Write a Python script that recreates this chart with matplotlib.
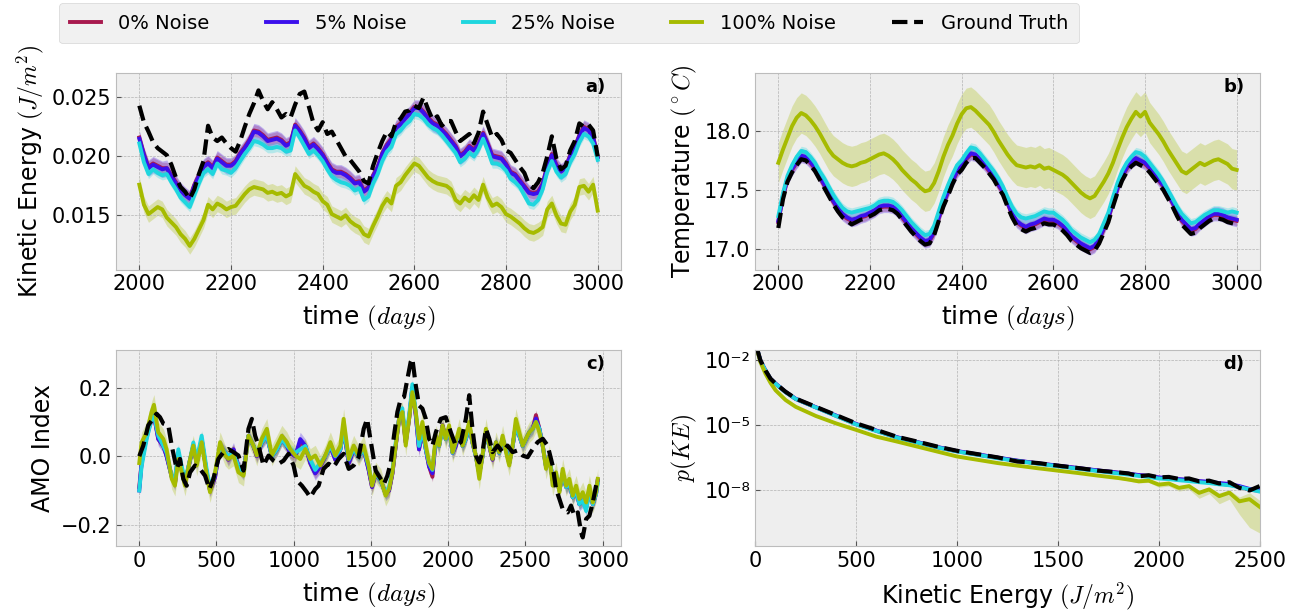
import numpy as np
import matplotlib
matplotlib.use("Agg")
import matplotlib.pyplot as plt
from matplotlib.ticker import NullLocator
from matplotlib.lines import Line2D

plt.style.use('bmh')
plt.rcParams['font.family'] = ['DejaVu Sans']

# ---------------- data ----------------
series_names = ['0% Noise', '5% Noise', '25% Noise', '100% Noise']
series_colors = ['#a81a4e', '#3c10ec', '#1fd6de', '#a6bb00']

# panel a: kinetic energy, days 2000..3000 every 10 days
ke_days = np.arange(2000, 3001, 10)
ke_truth = [
    0.0243, 0.0229, 0.0221, 0.0212, 0.0207, 0.0204, 0.0201, 0.0193, 0.0182, 0.0174,
    0.0170, 0.0164, 0.0172, 0.0185, 0.0196, 0.0226, 0.0216, 0.0213, 0.0216, 0.0211,
    0.0207, 0.0204, 0.0213, 0.0225, 0.0236, 0.0245, 0.0256, 0.0247, 0.0240, 0.0246,
    0.0240, 0.0233, 0.0236, 0.0233, 0.0244, 0.0253, 0.0255, 0.0242, 0.0228, 0.0222,
    0.0229, 0.0219, 0.0221, 0.0214, 0.0207, 0.0200, 0.0197, 0.0192, 0.0187, 0.0179,
    0.0177, 0.0192, 0.0203, 0.0213, 0.0221, 0.0217, 0.0229, 0.0232, 0.0238, 0.0239,
    0.0243, 0.0241, 0.0250, 0.0240, 0.0231, 0.0234, 0.0226, 0.0230, 0.0230, 0.0221,
    0.0213, 0.0216, 0.0219, 0.0211, 0.0220, 0.0238, 0.0227, 0.0216, 0.0219, 0.0214,
    0.0205, 0.0203, 0.0197, 0.0191, 0.0186, 0.0176, 0.0173, 0.0178, 0.0186, 0.0200,
    0.0217, 0.0198, 0.0189, 0.0192, 0.0205, 0.0213, 0.0228, 0.0225, 0.0227, 0.0222,
    0.0200]
ke_noise0 = [
    0.0216, 0.0202, 0.0191, 0.0194, 0.0192, 0.0190, 0.0190, 0.0184, 0.0178, 0.0172,
    0.0168, 0.0165, 0.0176, 0.0184, 0.0192, 0.0195, 0.0191, 0.0199, 0.0196, 0.0193,
    0.0193, 0.0196, 0.0203, 0.0208, 0.0214, 0.0222, 0.0221, 0.0218, 0.0214, 0.0215,
    0.0216, 0.0214, 0.0210, 0.0212, 0.0227, 0.0222, 0.0216, 0.0208, 0.0211, 0.0207,
    0.0202, 0.0195, 0.0189, 0.0187, 0.0187, 0.0185, 0.0182, 0.0178, 0.0179, 0.0171,
    0.0174, 0.0184, 0.0191, 0.0203, 0.0210, 0.0215, 0.0225, 0.0228, 0.0233, 0.0237,
    0.0242, 0.0242, 0.0238, 0.0233, 0.0229, 0.0227, 0.0223, 0.0219, 0.0214, 0.0209,
    0.0201, 0.0204, 0.0209, 0.0206, 0.0211, 0.0220, 0.0211, 0.0201, 0.0200, 0.0199,
    0.0194, 0.0187, 0.0185, 0.0180, 0.0175, 0.0170, 0.0169, 0.0170, 0.0177, 0.0192,
    0.0202, 0.0193, 0.0188, 0.0191, 0.0201, 0.0208, 0.0218, 0.0225, 0.0223, 0.0217,
    0.0200]
ke_noise5 = [
    0.0215, 0.0201, 0.0190, 0.0193, 0.0191, 0.0189, 0.0190, 0.0183, 0.0177, 0.0171,
    0.0167, 0.0164, 0.0175, 0.0183, 0.0191, 0.0194, 0.0190, 0.0198, 0.0195, 0.0192,
    0.0192, 0.0195, 0.0202, 0.0207, 0.0213, 0.0221, 0.0220, 0.0217, 0.0213, 0.0214,
    0.0215, 0.0213, 0.0209, 0.0211, 0.0226, 0.0221, 0.0215, 0.0207, 0.0210, 0.0206,
    0.0201, 0.0194, 0.0188, 0.0186, 0.0186, 0.0184, 0.0181, 0.0177, 0.0178, 0.0170,
    0.0173, 0.0183, 0.0190, 0.0202, 0.0209, 0.0214, 0.0224, 0.0227, 0.0232, 0.0236,
    0.0241, 0.0241, 0.0237, 0.0232, 0.0228, 0.0226, 0.0222, 0.0218, 0.0213, 0.0208,
    0.0200, 0.0203, 0.0208, 0.0205, 0.0210, 0.0219, 0.0210, 0.0200, 0.0199, 0.0198,
    0.0193, 0.0186, 0.0184, 0.0179, 0.0174, 0.0169, 0.0168, 0.0169, 0.0176, 0.0191,
    0.0201, 0.0192, 0.0187, 0.0190, 0.0200, 0.0207, 0.0217, 0.0224, 0.0222, 0.0216,
    0.0199]
ke_noise25 = [
    0.0211, 0.0195, 0.0185, 0.0189, 0.0186, 0.0184, 0.0185, 0.0178, 0.0172, 0.0165,
    0.0161, 0.0157, 0.0167, 0.0177, 0.0186, 0.0189, 0.0185, 0.0194, 0.0189, 0.0188,
    0.0186, 0.0190, 0.0196, 0.0202, 0.0207, 0.0213, 0.0212, 0.0210, 0.0207, 0.0207,
    0.0208, 0.0207, 0.0204, 0.0205, 0.0222, 0.0216, 0.0209, 0.0202, 0.0205, 0.0201,
    0.0196, 0.0189, 0.0183, 0.0180, 0.0178, 0.0177, 0.0175, 0.0171, 0.0173, 0.0163,
    0.0166, 0.0177, 0.0185, 0.0196, 0.0204, 0.0208, 0.0219, 0.0222, 0.0227, 0.0230,
    0.0236, 0.0235, 0.0232, 0.0227, 0.0224, 0.0222, 0.0218, 0.0213, 0.0208, 0.0203,
    0.0195, 0.0198, 0.0203, 0.0200, 0.0206, 0.0215, 0.0205, 0.0194, 0.0194, 0.0192,
    0.0188, 0.0181, 0.0178, 0.0174, 0.0167, 0.0160, 0.0159, 0.0163, 0.0172, 0.0187,
    0.0196, 0.0187, 0.0182, 0.0185, 0.0195, 0.0202, 0.0212, 0.0219, 0.0217, 0.0211,
    0.0197]
ke_noise100 = [
    0.0176, 0.0159, 0.0151, 0.0154, 0.0157, 0.0155, 0.0148, 0.0144, 0.0140, 0.0134,
    0.0130, 0.0124, 0.0130, 0.0138, 0.0146, 0.0159, 0.0155, 0.0160, 0.0158, 0.0155,
    0.0157, 0.0158, 0.0163, 0.0168, 0.0172, 0.0174, 0.0173, 0.0172, 0.0169, 0.0170,
    0.0168, 0.0169, 0.0166, 0.0168, 0.0185, 0.0180, 0.0175, 0.0173, 0.0170, 0.0168,
    0.0162, 0.0159, 0.0151, 0.0149, 0.0147, 0.0150, 0.0145, 0.0142, 0.0140, 0.0134,
    0.0132, 0.0141, 0.0149, 0.0158, 0.0164, 0.0160, 0.0175, 0.0178, 0.0184, 0.0189,
    0.0194, 0.0192, 0.0187, 0.0182, 0.0179, 0.0177, 0.0176, 0.0175, 0.0172, 0.0163,
    0.0160, 0.0165, 0.0162, 0.0167, 0.0163, 0.0176, 0.0165, 0.0158, 0.0160, 0.0157,
    0.0151, 0.0149, 0.0146, 0.0143, 0.0139, 0.0136, 0.0135, 0.0137, 0.0140, 0.0155,
    0.0160, 0.0150, 0.0143, 0.0142, 0.0153, 0.0159, 0.0174, 0.0175, 0.0170, 0.0176,
    0.0154]
ke_spread = [0.0005, 0.0007, 0.0004, 0.0007]

# panel b: temperature, days 2000..3000 every 10 days
temp_days = np.arange(2000, 3001, 10)
temp_truth = [
    17.18, 17.42, 17.57, 17.65, 17.71, 17.76, 17.75, 17.71, 17.66, 17.59,
    17.52, 17.45, 17.38, 17.32, 17.27, 17.24, 17.21, 17.23, 17.25, 17.26,
    17.28, 17.30, 17.33, 17.34, 17.34, 17.33, 17.30, 17.25, 17.20, 17.15,
    17.11, 17.07, 17.04, 17.05, 17.12, 17.24, 17.36, 17.45, 17.55, 17.63,
    17.67, 17.73, 17.77, 17.77, 17.73, 17.69, 17.64, 17.59, 17.52, 17.46,
    17.36, 17.27, 17.20, 17.17, 17.15, 17.17, 17.18, 17.20, 17.22, 17.21,
    17.21, 17.19, 17.16, 17.12, 17.07, 17.04, 17.01, 16.99, 16.97, 16.99,
    17.05, 17.14, 17.23, 17.36, 17.48, 17.58, 17.65, 17.70, 17.73, 17.71,
    17.69, 17.65, 17.60, 17.55, 17.50, 17.43, 17.36, 17.28, 17.21, 17.17,
    17.13, 17.14, 17.18, 17.21, 17.24, 17.26, 17.26, 17.25, 17.23, 17.22,
    17.21]
temp_noise0 = [
    17.23, 17.44, 17.59, 17.67, 17.73, 17.78, 17.77, 17.73, 17.68, 17.61,
    17.54, 17.47, 17.40, 17.34, 17.29, 17.26, 17.24, 17.25, 17.27, 17.28,
    17.30, 17.32, 17.35, 17.36, 17.36, 17.35, 17.32, 17.27, 17.22, 17.17,
    17.13, 17.09, 17.06, 17.07, 17.14, 17.26, 17.38, 17.48, 17.57, 17.65,
    17.70, 17.76, 17.80, 17.79, 17.75, 17.71, 17.66, 17.61, 17.54, 17.48,
    17.39, 17.29, 17.23, 17.20, 17.18, 17.20, 17.21, 17.23, 17.25, 17.24,
    17.24, 17.22, 17.19, 17.15, 17.10, 17.07, 17.04, 17.02, 17.00, 17.02,
    17.08, 17.17, 17.26, 17.39, 17.51, 17.61, 17.68, 17.73, 17.76, 17.74,
    17.72, 17.68, 17.63, 17.58, 17.53, 17.46, 17.39, 17.31, 17.24, 17.20,
    17.16, 17.17, 17.21, 17.24, 17.27, 17.29, 17.29, 17.28, 17.26, 17.25,
    17.24]
temp_noise5 = [
    17.24, 17.45, 17.60, 17.68, 17.74, 17.79, 17.78, 17.74, 17.69, 17.62,
    17.55, 17.48, 17.41, 17.35, 17.30, 17.27, 17.25, 17.26, 17.28, 17.29,
    17.31, 17.33, 17.36, 17.37, 17.37, 17.36, 17.33, 17.28, 17.23, 17.18,
    17.14, 17.10, 17.07, 17.08, 17.15, 17.27, 17.39, 17.49, 17.58, 17.66,
    17.71, 17.77, 17.81, 17.80, 17.76, 17.72, 17.67, 17.62, 17.55, 17.49,
    17.40, 17.30, 17.24, 17.21, 17.19, 17.21, 17.22, 17.24, 17.26, 17.25,
    17.25, 17.23, 17.20, 17.16, 17.11, 17.08, 17.05, 17.03, 17.01, 17.03,
    17.09, 17.18, 17.27, 17.40, 17.52, 17.62, 17.69, 17.74, 17.77, 17.75,
    17.73, 17.69, 17.64, 17.59, 17.54, 17.47, 17.40, 17.32, 17.25, 17.21,
    17.17, 17.18, 17.22, 17.25, 17.28, 17.30, 17.30, 17.29, 17.27, 17.26,
    17.25]
temp_noise25 = [
    17.28, 17.47, 17.62, 17.71, 17.78, 17.83, 17.82, 17.78, 17.73, 17.66,
    17.60, 17.53, 17.46, 17.40, 17.35, 17.32, 17.31, 17.32, 17.33, 17.34,
    17.35, 17.37, 17.40, 17.41, 17.41, 17.40, 17.37, 17.33, 17.28, 17.23,
    17.19, 17.15, 17.12, 17.13, 17.20, 17.32, 17.44, 17.54, 17.63, 17.71,
    17.75, 17.81, 17.86, 17.85, 17.81, 17.76, 17.71, 17.66, 17.60, 17.53,
    17.44, 17.36, 17.30, 17.27, 17.26, 17.27, 17.28, 17.30, 17.32, 17.31,
    17.31, 17.28, 17.25, 17.21, 17.16, 17.13, 17.10, 17.08, 17.06, 17.08,
    17.13, 17.22, 17.31, 17.44, 17.56, 17.66, 17.73, 17.78, 17.82, 17.81,
    17.78, 17.73, 17.68, 17.63, 17.57, 17.50, 17.43, 17.36, 17.30, 17.26,
    17.22, 17.23, 17.26, 17.29, 17.31, 17.33, 17.33, 17.32, 17.31, 17.32,
    17.31]
temp_noise100 = [
    17.73, 17.84, 17.94, 18.04, 18.11, 18.15, 18.13, 18.09, 18.04, 17.98,
    17.91, 17.84, 17.79, 17.76, 17.73, 17.71, 17.70, 17.71, 17.73, 17.74,
    17.76, 17.78, 17.80, 17.81, 17.79, 17.76, 17.72, 17.67, 17.63, 17.59,
    17.56, 17.52, 17.49, 17.50, 17.56, 17.66, 17.78, 17.88, 17.96, 18.06,
    18.14, 18.19, 18.20, 18.17, 18.13, 18.09, 18.05, 17.99, 17.92, 17.86,
    17.80, 17.75, 17.71, 17.70, 17.69, 17.70, 17.69, 17.71, 17.68, 17.69,
    17.67, 17.65, 17.63, 17.60, 17.56, 17.52, 17.48, 17.45, 17.43, 17.45,
    17.51, 17.57, 17.64, 17.73, 17.84, 17.94, 18.03, 18.10, 18.16, 18.12,
    18.16, 18.07, 18.02, 17.97, 17.91, 17.84, 17.78, 17.72, 17.66, 17.64,
    17.67, 17.70, 17.73, 17.71, 17.73, 17.75, 17.76, 17.74, 17.72, 17.68,
    17.67]
temp_spread = [0.04, 0.06, 0.04, 0.17]

# panel c: AMO index
amo_days = [
    0, 15, 48, 80, 95, 123, 156, 177, 210, 231,
    253, 275, 296, 329, 350, 372, 404, 437, 458, 491,
    523, 556, 577, 610, 642, 675, 707, 739, 761, 793,
    826, 858, 891, 923, 956, 977, 1010, 1042, 1075, 1107,
    1139, 1172, 1204, 1237, 1269, 1302, 1323, 1356, 1388, 1420,
    1453, 1485, 1507, 1530, 1563, 1595, 1617, 1639, 1660, 1682,
    1703, 1725, 1747, 1768, 1790, 1811, 1833, 1855, 1876, 1898,
    1920, 1941, 1963, 1984, 2006, 2028, 2049, 2071, 2093, 2114,
    2136, 2157, 2179, 2201, 2222, 2244, 2266, 2287, 2309, 2330,
    2352, 2374, 2395, 2417, 2438, 2460, 2482, 2503, 2525, 2547,
    2568, 2590, 2612, 2633, 2655, 2676, 2698, 2720, 2741, 2763,
    2784, 2806, 2828, 2849, 2871, 2893, 2914, 2936, 2957, 2968]
amo_noise0 = [
    -0.09, -0.02, 0.06, 0.11, 0.12, 0.05, 0.03, 0.00, -0.06, -0.08,
    0.01, -0.04, -0.08, -0.01, 0.03, -0.02, 0.05, -0.05, -0.10, -0.06,
    0.03, 0.01, -0.01, 0.02, -0.03, -0.05, 0.06, 0.03, 0.00, 0.04,
    0.06, 0.00, 0.02, 0.05, 0.03, 0.01, 0.00, 0.04, 0.03, -0.02,
    -0.05, -0.03, 0.00, 0.03, -0.01, 0.02, 0.08, -0.02, 0.02, 0.00,
    0.02, -0.04, -0.09, -0.05, -0.07, -0.11, -0.10, -0.05, 0.03, 0.11,
    0.13, 0.04, 0.11, 0.20, 0.12, 0.02, 0.07, 0.02, -0.03, -0.06,
    0.05, 0.03, 0.09, 0.05, 0.08, 0.01, 0.03, 0.07, 0.03, 0.05,
    0.09, 0.04, 0.00, -0.05, 0.00, 0.07, 0.03, -0.01, 0.04, 0.01,
    0.05, 0.02, -0.02, 0.03, 0.09, 0.06, 0.03, 0.05, 0.07, 0.08,
    0.12, 0.08, 0.03, -0.03, 0.00, -0.07, -0.06, -0.10, -0.05, -0.09,
    -0.08, -0.12, -0.10, -0.14, -0.13, -0.15, -0.10, -0.14, -0.11, -0.07]
amo_noise5 = [
    -0.10, -0.02, 0.06, 0.11, 0.12, 0.05, 0.03, 0.00, -0.06, -0.08,
    0.01, -0.04, -0.08, -0.01, 0.03, -0.02, 0.05, -0.05, -0.10, -0.06,
    0.03, 0.01, -0.01, 0.02, -0.03, -0.05, 0.06, 0.03, 0.00, 0.04,
    0.06, 0.00, 0.02, 0.05, 0.03, 0.01, 0.00, 0.05, 0.03, -0.02,
    -0.05, -0.03, 0.00, 0.03, -0.01, 0.02, 0.08, -0.02, 0.02, 0.00,
    0.02, -0.04, -0.09, -0.05, -0.07, -0.11, -0.10, -0.05, 0.03, 0.11,
    0.13, 0.04, 0.11, 0.20, 0.12, 0.02, 0.08, 0.02, -0.03, -0.05,
    0.05, 0.03, 0.09, 0.05, 0.08, 0.01, 0.03, 0.07, 0.03, 0.05,
    0.09, 0.04, 0.00, -0.05, 0.00, 0.07, 0.03, -0.01, 0.04, 0.01,
    0.05, 0.02, -0.02, 0.03, 0.09, 0.06, 0.03, 0.05, 0.07, 0.08,
    0.11, 0.08, 0.03, -0.03, 0.00, -0.07, -0.06, -0.10, -0.05, -0.09,
    -0.08, -0.12, -0.10, -0.14, -0.13, -0.15, -0.10, -0.14, -0.11, -0.07]
amo_noise25 = [
    -0.10, -0.03, 0.05, 0.11, 0.12, 0.06, 0.03, 0.01, -0.06, -0.07,
    0.02, -0.03, -0.07, -0.01, 0.04, -0.01, 0.06, -0.04, -0.09, -0.05,
    0.03, 0.01, 0.00, 0.01, -0.03, -0.05, 0.06, 0.03, 0.01, 0.04,
    0.06, 0.00, 0.02, 0.05, 0.03, 0.02, 0.01, 0.02, 0.03, -0.01,
    -0.04, -0.02, 0.00, 0.03, 0.00, 0.02, 0.08, -0.01, 0.02, 0.00,
    0.02, -0.03, -0.08, -0.05, -0.07, -0.11, -0.09, -0.04, 0.04, 0.11,
    0.14, 0.05, 0.12, 0.21, 0.13, 0.03, 0.08, 0.02, -0.02, -0.04,
    0.05, 0.03, 0.08, 0.05, 0.08, 0.01, 0.04, 0.07, 0.03, 0.05,
    0.09, 0.04, 0.00, -0.05, 0.00, 0.07, 0.03, 0.00, 0.04, 0.01,
    0.05, 0.02, -0.02, 0.03, 0.09, 0.06, 0.03, 0.05, 0.07, 0.08,
    0.10, 0.08, 0.03, -0.03, 0.00, -0.07, -0.05, -0.10, -0.05, -0.09,
    -0.08, -0.12, -0.10, -0.14, -0.13, -0.16, -0.10, -0.14, -0.11, -0.08]
amo_noise100 = [
    -0.02, 0.04, 0.07, 0.13, 0.15, 0.07, 0.05, 0.02, -0.066, -0.086,
    -0.008, -0.047, -0.086, -0.008, 0.031, -0.027, 0.041, -0.057, -0.105, -0.047,
    0.041, 0.002, -0.008, 0.002, -0.047, -0.057, 0.06, 0.031, 0.002, 0.051,
    0.08, 0.002, 0.031, 0.06, 0.041, 0.021, 0.002, -0.008, 0.021, -0.008,
    0.002, -0.027, 0.002, 0.041, 0.002, 0.031, 0.109, -0.008, 0.031, 0.002,
    0.031, -0.027, -0.086, -0.047, -0.066, -0.115, -0.096, -0.047, 0.031, 0.109,
    0.129, 0.031, 0.109, 0.187, 0.129, 0.051, 0.10, 0.031, -0.018, -0.037,
    0.06, 0.031, 0.09, 0.051, 0.09, 0.012, 0.041, 0.08, 0.031, 0.06,
    0.10, 0.041, 0.002, -0.066, 0.002, 0.08, 0.031, -0.008, 0.041, 0.012,
    0.06, 0.012, -0.027, 0.031, 0.109, 0.07, 0.031, 0.051, 0.07, 0.08,
    0.10, 0.07, 0.031, -0.037, 0.002, -0.086, -0.047, -0.105, -0.037, -0.086,
    -0.066, -0.115, -0.086, -0.125, -0.105, -0.135, -0.086, -0.135, -0.105, -0.066]
amo_spread = [0.015, 0.02, 0.015, 0.03]
amo_truth_days = [
    0, 26, 58, 80, 112, 134, 156, 188, 210, 242,
    264, 285, 307, 329, 361, 393, 426, 454, 480, 512,
    545, 577, 610, 642, 675, 707, 729, 750, 772, 804,
    837, 869, 902, 934, 966, 999, 1020, 1053, 1085, 1107,
    1139, 1161, 1193, 1226, 1258, 1291, 1323, 1356, 1388, 1420,
    1453, 1475, 1496, 1530, 1563, 1584, 1606, 1628, 1649, 1671,
    1693, 1714, 1736, 1757, 1768, 1790, 1811, 1833, 1855, 1876,
    1898, 1920, 1952, 1984, 2017, 2049, 2082, 2114, 2136, 2157,
    2179, 2201, 2222, 2244, 2266, 2287, 2320, 2352, 2384, 2417,
    2449, 2482, 2514, 2547, 2579, 2612, 2644, 2676, 2698, 2720,
    2741, 2774, 2795, 2817, 2839, 2860, 2871, 2893, 2914, 2936,
    2957, 2968]
amo_truth = [
    0.0, 0.031, 0.09, 0.104, 0.124, 0.114, 0.095, 0.09, 0.031, -0.037,
    -0.008, -0.066, -0.086, -0.047, -0.027, -0.037, -0.057, -0.096, -0.066, -0.008,
    0.012, 0.021, 0.012, 0.002, -0.042, 0.08, 0.109, 0.06, 0.031, -0.027,
    0.002, -0.013, -0.022, -0.013, 0.007, -0.027, -0.071, -0.086, -0.105, -0.12,
    -0.096, -0.086, -0.037, -0.022, -0.032, -0.008, 0.007, -0.037, -0.027, -0.003,
    0.08, 0.109, 0.051, -0.042, -0.066, -0.081, -0.057, -0.018, 0.06, 0.129,
    0.168, 0.173, 0.226, 0.275, 0.285, 0.207, 0.148, 0.139, 0.109, 0.051,
    0.031, 0.07, 0.109, 0.114, 0.07, 0.031, 0.041, 0.109, 0.178, 0.08,
    0.002, -0.018, 0.012, 0.08, 0.051, 0.012, 0.031, 0.012, 0.031, 0.012,
    0.017, 0.002, -0.003, 0.021, 0.041, 0.051, 0.031, -0.027, -0.096, -0.125,
    -0.154, -0.164, -0.144, -0.174, -0.164, -0.222, -0.237, -0.183, -0.174, -0.135,
    -0.086, -0.066]

# panel d: PDF of kinetic energy (log10 values)
pdf_ke = [10, 25, 50, 75, 100, 150, 200, 300, 400, 500, 600, 700, 800, 900, 1000,
          1100, 1200, 1300, 1400, 1500, 1600, 1700, 1800, 1850, 1900, 1950, 2000,
          2050, 2100, 2150, 2200, 2250, 2300, 2350, 2400, 2450, 2500]
pdf_truth_log = [-1.55, -2.03, -2.49, -2.87, -3.09, -3.47, -3.78, -4.16, -4.54, -4.92,
                 -5.22, -5.53, -5.75, -5.98, -6.18, -6.33, -6.48, -6.67, -6.74, -6.86,
                 -6.97, -7.09, -7.17, -7.22, -7.35, -7.30, -7.40, -7.38, -7.47, -7.45,
                 -7.58, -7.55, -7.68, -7.62, -7.88, -8.00, -7.80]
pdf_noise0_log = [-1.55, -2.04, -2.50, -2.88, -3.10, -3.48, -3.80, -4.18, -4.57, -4.96,
                  -5.26, -5.56, -5.78, -6.01, -6.20, -6.35, -6.50, -6.64, -6.76, -6.87,
                  -6.98, -7.09, -7.19, -7.24, -7.30, -7.35, -7.42, -7.45, -7.50, -7.53,
                  -7.59, -7.63, -7.69, -7.73, -7.84, -7.96, -8.02]
pdf_noise5_log = [-1.55, -2.04, -2.49, -2.87, -3.09, -3.48, -3.79, -4.18, -4.56, -4.95,
                  -5.25, -5.55, -5.77, -6.00, -6.19, -6.34, -6.49, -6.63, -6.75, -6.86,
                  -6.97, -7.08, -7.18, -7.23, -7.29, -7.33, -7.40, -7.43, -7.48, -7.51,
                  -7.57, -7.60, -7.66, -7.70, -7.80, -7.93, -7.98]
pdf_noise25_log = [-1.55, -2.05, -2.50, -2.88, -3.10, -3.49, -3.80, -4.19, -4.58, -4.97,
                   -5.27, -5.57, -5.79, -6.02, -6.21, -6.36, -6.52, -6.65, -6.77, -6.89,
                   -7.00, -7.11, -7.22, -7.27, -7.33, -7.38, -7.45, -7.48, -7.53, -7.57,
                   -7.62, -7.66, -7.72, -7.76, -7.85, -7.95, -8.05]
pdf_noise100_log = [-1.60, -2.11, -2.64, -3.06, -3.40, -3.85, -4.16, -4.58, -4.92, -5.22,
                    -5.53, -5.75, -5.98, -6.21, -6.44, -6.59, -6.74, -6.86, -6.98, -7.09,
                    -7.20, -7.32, -7.43, -7.50, -7.58, -7.55, -7.73, -7.68, -7.88, -7.80,
                    -8.11, -7.95, -8.26, -8.10, -8.50, -8.40, -8.75]
pdf_noise100_low = [0.03] * 22 + [0.05, 0.06, 0.08, 0.08, 0.12, 0.12, 0.15, 0.15,
                                  0.25, 0.2, 0.35, 0.3, 0.6, 1.3, 1.2]
pdf_noise100_high = [0.03] * 22 + [0.04, 0.04, 0.05, 0.05, 0.07, 0.07, 0.09, 0.09,
                                   0.12, 0.1, 0.15, 0.12, 0.2, 0.3, 0.3]
pdf_spread_log = [0.03, 0.04, 0.03]

# ---------------- figure ----------------
W, H = 1292, 616
fig = plt.figure(figsize=(W / 100, H / 100), dpi=100)


def ax_at(x0, x1, y0, y1):
    return fig.add_axes([x0 / W, 1 - y1 / H, (x1 - x0) / W, (y1 - y0) / H])


ax_a = ax_at(116.4, 620.6, 72.7, 269.5)
ax_b = ax_at(755.4, 1259.6, 72.7, 269.5)
ax_c = ax_at(116.4, 620.6, 350, 546)
ax_d = ax_at(755.4, 1259.6, 350, 546)

LW = 2.8
GT_LW = 3.0
BAND_ALPHA = 0.28


def draw_series(ax, x, series, spreads, truth_x, truth):
    for vals, sp, col in zip(series, spreads, series_colors):
        v = np.asarray(vals)
        ax.fill_between(x, v - sp, v + sp, color=col, alpha=BAND_ALPHA, lw=0)
        ax.plot(x, v, color=col, lw=LW)
    ax.plot(truth_x, truth, color='black', lw=GT_LW, ls='--')


draw_series(ax_a, ke_days, [ke_noise0, ke_noise5, ke_noise25, ke_noise100],
            ke_spread, ke_days, ke_truth)
draw_series(ax_b, temp_days, [temp_noise0, temp_noise5, temp_noise25, temp_noise100],
            temp_spread, temp_days, temp_truth)
draw_series(ax_c, amo_days, [amo_noise0, amo_noise5, amo_noise25, amo_noise100],
            amo_spread, amo_truth_days, amo_truth)

# panel d
pdf_series = [pdf_noise0_log, pdf_noise5_log, pdf_noise25_log, pdf_noise100_log]
for i, (vals, col) in enumerate(zip(pdf_series, series_colors)):
    v = np.asarray(vals)
    if i < 3:
        lo = v - pdf_spread_log[i]
        hi = v + pdf_spread_log[i]
    else:
        lo = v - np.asarray(pdf_noise100_low)
        hi = v + np.asarray(pdf_noise100_high)
    ax_d.fill_between(pdf_ke, 10 ** lo, 10 ** hi, color=col, alpha=BAND_ALPHA, lw=0)
    ax_d.plot(pdf_ke, 10 ** v, color=col, lw=LW)
ax_d.plot(pdf_ke, 10 ** np.asarray(pdf_truth_log), color='black', lw=GT_LW, ls='--')
ax_d.set_yscale('log')
ax_d.set_ylim(10 ** -10.55, 10 ** -1.55)
ax_d.set_yticks([1e-2, 1e-5, 1e-8])
ax_d.set_yticklabels(['10\u207b\u00b2', '10\u207b\u2075', '10\u207b\u2078'])
ax_d.yaxis.set_minor_locator(NullLocator())
ax_d.set_xlim(0, 2500)
ax_d.set_xticks([0, 500, 1000, 1500, 2000, 2500])

# limits / ticks
ax_a.set_xlim(1950, 3050)
ax_a.set_ylim(0.0104, 0.0271)
ax_a.set_yticks([0.015, 0.020, 0.025])
ax_a.set_yticklabels(['0.015', '0.020', '0.025'])
ax_a.set_xticks([2000, 2200, 2400, 2600, 2800, 3000])

ax_b.set_xlim(1950, 3050)
ax_b.set_ylim(16.83, 18.49)
ax_b.set_yticks([17.0, 17.5, 18.0])
ax_b.set_xticks([2000, 2200, 2400, 2600, 2800, 3000])

ax_c.set_xlim(-148, 3116)
ax_c.set_ylim(-0.262, 0.31)
ax_c.set_yticks([-0.2, 0.0, 0.2])
ax_c.set_xticks([0, 500, 1000, 1500, 2000, 2500, 3000])

LABEL_FS = 17
TICK_FS = 15
XPAD = 7
ax_a.set_ylabel(r'Kinetic Energy $(J/m^2)$', fontsize=LABEL_FS)
ax_a.set_xlabel(r'time $(days)$', fontsize=LABEL_FS + 1, labelpad=XPAD)
ax_b.set_ylabel(r'Temperature $(^\circ C)$', fontsize=LABEL_FS)
ax_b.set_xlabel(r'time $(days)$', fontsize=LABEL_FS + 1, labelpad=XPAD)
ax_c.set_ylabel('AMO Index', fontsize=LABEL_FS)
ax_c.set_xlabel(r'time $(days)$', fontsize=LABEL_FS + 1, labelpad=XPAD)
ax_d.set_ylabel(r'$p(KE)$', fontsize=LABEL_FS)
ax_d.set_xlabel(r'Kinetic Energy $(J/m^2)$', fontsize=LABEL_FS, labelpad=XPAD)

for ax, lab in zip([ax_a, ax_b, ax_c, ax_d], ['a)', 'b)', 'c)', 'd)']):
    ax.tick_params(labelsize=TICK_FS, color='#555555')
    ax.text(0.97, 0.975, lab, transform=ax.transAxes, ha='right', va='top',
            fontsize=13, fontweight='bold')
    ax.grid(True, which='major')

# legend
handles = [Line2D([], [], color=c, lw=LW) for c in series_colors]
handles.append(Line2D([], [], color='black', lw=GT_LW, ls='--'))
labels = series_names + ['Ground Truth']
fig.legend(handles, labels, loc='upper center', bbox_to_anchor=(569 / W, 1 - 3 / H),
           borderaxespad=0.0, ncol=5, fontsize=14, handlelength=1.6,
           handletextpad=0.9, columnspacing=2.9, borderpad=0.55, frameon=True)

fig.savefig('out.png', dpi=100)
